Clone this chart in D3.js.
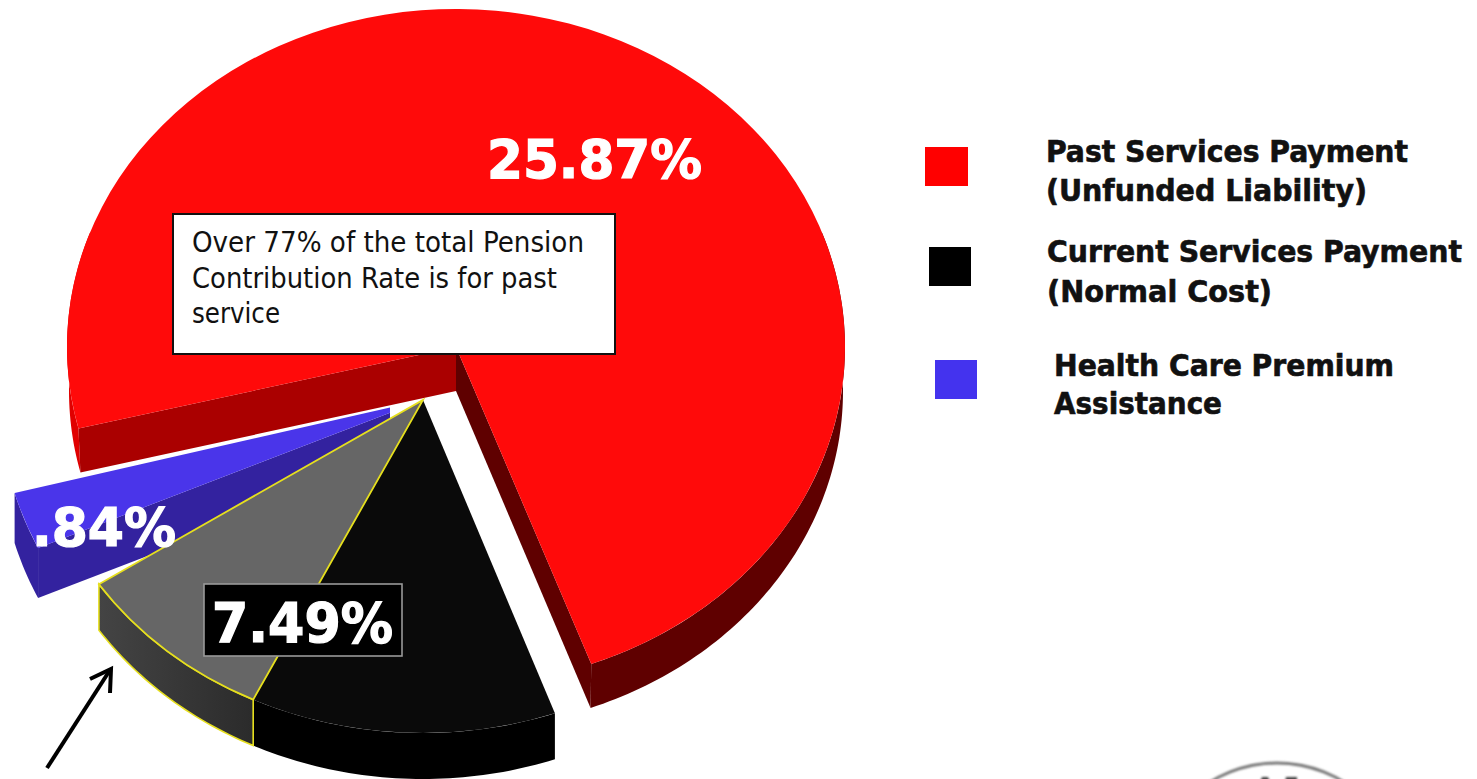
<!DOCTYPE html>
<html>
<head>
<meta charset="utf-8">
<title>Pension Contribution Rate</title>
<script src="https://cdn.jsdelivr.net/npm/d3@7"></script>
<style>
  html, body { margin: 0; padding: 0; background: #fff; }
  svg { display: block; }
  text { font-family: "DejaVu Sans Condensed", "DejaVu Sans", Tahoma, sans-serif; }
</style>
</head>
<body>
<div id="chart"></div>
<script>
// Employer contribution rate, percent of payroll
const sliceNames = ["Past Services Payment", "Current Services Payment", "Health Care Premium Assistance"];
const sliceValues = [25.87, 7.49, 0.84];
const sliceLabels = ["25.87%", "7.49%", ".84%"];

// Part of the current-services slice that is picked out in grey
const highlightedValue = 3.0;

const topColors = ["#ff0a0a", "#0a0a0a", "#4a35ea"];
const legendColors = ["#ff0000", "#000000", "#4433ee"];

const legendLines = [
  ["Past Services Payment", "(Unfunded Liability)"],
  ["Current Services Payment", "(Normal Cost)"],
  ["Health Care Premium", "Assistance"]
];
const calloutLines = [
  "Over 77% of the total Pension",
  "Contribution Rate is for past",
  "service"
];

// Where each exploded wedge sits on the tilted disc
const wedgeLayout = [
  { cx: 456, cy: 347, rx: 389, ry: 338, depth: 44, baseRx: 387, midDeg: 387.85, spread: 0.968 },
  { cx: 423, cy: 400, rx: 389, ry: 333, depth: 46, baseRx: 389, midDeg: 198.3, spread: 0.967 },
  { cx: 423, cy: 400, rx: 423, ry: 357, depth: 50, baseRx: 423, midDeg: 250.2, spread: 1.063 }
];

const width = 1477, height = 779;
const rad = Math.PI / 180;

const svg = d3.select("#chart").append("svg")
  .attr("width", width).attr("height", height)
  .attr("viewBox", [0, 0, width, height]);

const defs = svg.append("defs");
const sideGradient = defs.append("linearGradient").attr("id", "greySide");
sideGradient.append("stop").attr("offset", "0%").attr("stop-color", "#444444");
sideGradient.append("stop").attr("offset", "100%").attr("stop-color", "#2b2b2b");
defs.append("clipPath").attr("id", "blueTip")
  .append("rect").attr("x", 0).attr("y", 300).attr("width", 390).attr("height", 400);
defs.append("filter").attr("id", "soft").append("feGaussianBlur").attr("stdDeviation", 1.3);

// Angles come straight from the values; each wedge is then placed by its layout
const arcs = d3.pie().sort(null).value(d => d)(sliceValues);
const spans = arcs.map((a, i) => (a.endAngle - a.startAngle) * wedgeLayout[i].spread);
const starts = arcs.map((a, i) => wedgeLayout[i].midDeg * rad - spans[i] / 2);
const ends = arcs.map((a, i) => wedgeLayout[i].midDeg * rad + spans[i] / 2);

const rim = (w, t, lowered) => lowered
  ? [w.cx + w.baseRx * Math.sin(t), w.cy + w.depth - w.ry * Math.cos(t)]
  : [w.cx + w.rx * Math.sin(t), w.cy - w.ry * Math.cos(t)];

const line = d3.line();

// Outer wall between two angles, top rim forward and bottom rim back
const outerWall = (w, a, b) => {
  const n = Math.max(8, Math.ceil(Math.abs(b - a) / (1 * rad)));
  const ts = d3.range(n + 1).map(k => a + (b - a) * k / n);
  const pts = ts.map(t => rim(w, t, false)).concat(ts.slice().reverse().map(t => rim(w, t, true)));
  return line(pts) + "Z";
};

// Flat cut face running from the wedge centre out to the rim
const cutWall = (w, t) => line([
  [w.cx, w.cy], rim(w, t, false), rim(w, t, true), [w.cx, w.cy + w.depth]
]) + "Z";

const topFace = (g, w, a, b, fill) => g.append("path")
  .attr("d", d3.arc().innerRadius(0).outerRadius(w.rx).startAngle(a).endAngle(b)())
  .attr("transform", `translate(${w.cx},${w.cy}) scale(1,${w.ry / w.rx})`)
  .attr("fill", fill);

// Past services wedge
{
  const w = wedgeLayout[0];
  const g = svg.append("g");
  g.append("path").attr("d", outerWall(w, starts[0], 290 * rad)).attr("fill", "#e00000");
  g.append("path").attr("d", outerWall(w, 70 * rad, ends[0] - 360 * rad)).attr("fill", "#5f0000");
  g.append("path").attr("d", cutWall(w, starts[0])).attr("fill", "#aa0000");
  g.append("path").attr("d", cutWall(w, ends[0])).attr("fill", "#5f0000");
  topFace(g, w, starts[0], ends[0], topColors[0]);
}

// Health care premium wedge, its tip trimmed where it meets the neighbouring wedge
{
  const w = wedgeLayout[2];
  const g = svg.append("g").attr("clip-path", "url(#blueTip)");
  g.append("path").attr("d", outerWall(w, starts[2], ends[2])).attr("fill", "#33229f");
  g.append("path").attr("d", cutWall(w, starts[2])).attr("fill", "#33229f");
  topFace(g, w, starts[2], ends[2], topColors[2]);
}

// Current services wedge, with its highlighted share outlined in yellow
{
  const w = wedgeLayout[1];
  const g = svg.append("g");
  const split = ends[1] - spans[1] * highlightedValue / sliceValues[1];
  g.append("path").attr("d", outerWall(w, starts[1], split)).attr("fill", "#000");
  topFace(g, w, starts[1], split, topColors[1]);
  g.append("path").attr("d", outerWall(w, split, ends[1]))
    .attr("fill", "url(#greySide)").attr("stroke", "#e6df1e").attr("stroke-width", 1.6);
  topFace(g, w, split, ends[1], "#666666")
    .attr("stroke", "#e6df1e").attr("stroke-width", 1.8)
    .attr("vector-effect", "non-scaling-stroke");
}

// Value labels
const valueLabel = (text, x, y, size, len) => svg.append("text")
  .attr("x", x).attr("y", y).text(text)
  .attr("font-size", size).attr("font-weight", 700).attr("fill", "#fff")
  .attr("stroke", "#fff").attr("stroke-width", 1.2)
  .attr("textLength", len).attr("lengthAdjust", "spacingAndGlyphs");

valueLabel(sliceLabels[0], 487, 178, 53, 215);
svg.append("rect").attr("x", 204).attr("y", 584).attr("width", 198).attr("height", 72)
  .attr("fill", "#000").attr("stroke", "#999").attr("stroke-width", 1.6);
valueLabel(sliceLabels[1], 212, 642, 55, 181);
valueLabel(sliceLabels[2], 32, 546, 53, 144);

// Callout box
svg.append("rect").attr("x", 173).attr("y", 214).attr("width", 442).attr("height", 140)
  .attr("fill", "#fff").attr("stroke", "#111").attr("stroke-width", 2);
const calloutY = [252, 288, 323], calloutLen = [392, 365, 88];
svg.selectAll("text.callout").data(calloutLines).join("text")
  .attr("class", "callout")
  .attr("x", 192).attr("y", (d, i) => calloutY[i])
  .attr("font-size", 28).attr("fill", "#111")
  .attr("textLength", (d, i) => calloutLen[i]).attr("lengthAdjust", "spacingAndGlyphs")
  .text(d => d);

// Legend
const legendSwatch = [[925, 147, 43, 39], [929, 247, 42, 39], [935, 360, 42, 39]];
const legendTextX = [1046, 1047, 1054];
const legendBase = [[162, 201], [262, 302], [376, 414]];
const legendLen = [[362, 321], [415, 225], [340, 168]];
const legend = svg.selectAll("g.legend").data(sliceNames).join("g").attr("class", "legend");
legend.append("rect")
  .attr("x", (d, i) => legendSwatch[i][0]).attr("y", (d, i) => legendSwatch[i][1])
  .attr("width", (d, i) => legendSwatch[i][2]).attr("height", (d, i) => legendSwatch[i][3])
  .attr("fill", (d, i) => legendColors[i]);
legend.each(function (d, i) {
  d3.select(this).selectAll("text").data(legendLines[i]).join("text")
    .attr("x", legendTextX[i]).attr("y", (t, k) => legendBase[i][k])
    .attr("font-size", 31).attr("font-weight", 700).attr("fill", "#111")
    .attr("stroke", "#111").attr("stroke-width", 0.6)
    .attr("textLength", (t, k) => legendLen[i][k]).attr("lengthAdjust", "spacingAndGlyphs")
    .text(t => t);
});

// Arrow pointing at the highlighted share
svg.append("path").attr("d", "M47,768L110,670")
  .attr("stroke", "#000").attr("stroke-width", 4).attr("fill", "none");
svg.append("path").attr("d", "M90,679L111,669L110,693")
  .attr("stroke", "#000").attr("stroke-width", 4).attr("fill", "none");

// Top of the seal in the lower right corner
const seal = svg.append("g").attr("filter", "url(#soft)");
seal.append("circle").attr("cx", 1277).attr("cy", 890).attr("r", 127)
  .attr("fill", "none").attr("stroke", "#777").attr("stroke-width", 3);
seal.append("path").attr("d", "M1260,782L1262,777L1268,777L1270,782ZM1285,782L1286,777L1297,777L1297,782Z")
  .attr("fill", "#444");
</script>
</body>
</html>
